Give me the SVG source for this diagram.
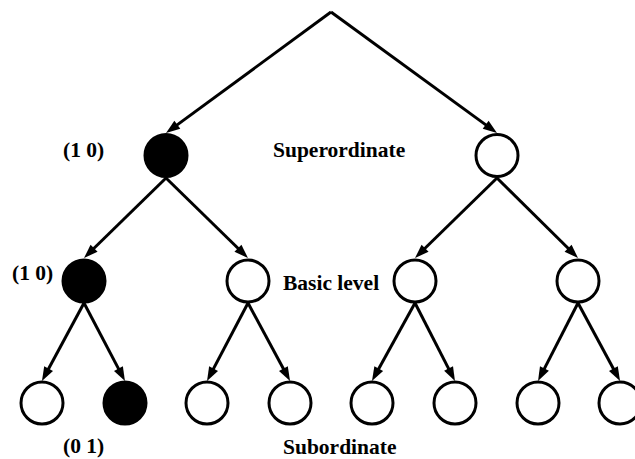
<svg xmlns="http://www.w3.org/2000/svg" width="635" height="459" viewBox="0 0 635 459">
<style>
.n{fill:#fff;stroke:#000;stroke-width:3}
.f{fill:#000;stroke:#000;stroke-width:3}
.e{stroke:#000;stroke-width:3;fill:none;marker-end:url(#ah)}
text{font-family:"Liberation Serif","Times New Roman",serif;font-weight:bold;font-size:21.5px;fill:#000}
</style>
<defs>
<marker id="ah" markerUnits="userSpaceOnUse" markerWidth="16" markerHeight="12" refX="4" refY="5" orient="auto" overflow="visible">
<path d="M0,0 L14,5 L0,10 z" fill="#000"/>
</marker>
</defs>
<g id="connectors">
<line class="e" x1="331" y1="12" x2="174.1" y2="127.1"/>
<line class="e" x1="331" y1="12" x2="488.9" y2="127.1"/>
<line class="e" x1="166" y1="178" x2="91.2" y2="251"/>
<line class="e" x1="166" y1="178" x2="240.8" y2="251"/>
<line class="e" x1="497" y1="178" x2="422.2" y2="251"/>
<line class="e" x1="497" y1="178" x2="570.9" y2="251"/>
<line class="e" x1="84" y1="303" x2="46.7" y2="372.2"/>
<line class="e" x1="84" y1="303" x2="120.3" y2="372.1"/>
<line class="e" x1="248" y1="303" x2="211.7" y2="372.1"/>
<line class="e" x1="248" y1="303" x2="285.3" y2="372.2"/>
<line class="e" x1="415" y1="303" x2="376.8" y2="372.2"/>
<line class="e" x1="415" y1="303" x2="450.4" y2="372.1"/>
<line class="e" x1="578" y1="303" x2="542.6" y2="372.1"/>
<line class="e" x1="578" y1="303" x2="615.3" y2="372.2"/>
</g>
<g id="sup-left"><circle class="f" cx="166" cy="155.5" r="21"/></g>
<g id="sup-right"><circle class="n" cx="497" cy="155.5" r="21"/></g>
<g id="basic-1"><circle class="f" cx="84" cy="281" r="21"/></g>
<g id="basic-2"><circle class="n" cx="248" cy="281" r="21"/></g>
<g id="basic-3"><circle class="n" cx="415" cy="281" r="21"/></g>
<g id="basic-4"><circle class="n" cx="578" cy="281" r="21"/></g>
<g id="sub-1"><circle class="n" cx="42" cy="403" r="21"/></g>
<g id="sub-2"><circle class="f" cx="125" cy="403" r="21"/></g>
<g id="sub-3"><circle class="n" cx="207" cy="403" r="21"/></g>
<g id="sub-4"><circle class="n" cx="290" cy="403" r="21"/></g>
<g id="sub-5"><circle class="n" cx="372" cy="403" r="21"/></g>
<g id="sub-6"><circle class="n" cx="455" cy="403" r="21"/></g>
<g id="sub-7"><circle class="n" cx="538" cy="403" r="21"/></g>
<g id="sub-8"><circle class="n" cx="620" cy="403" r="21"/></g>
<g id="labels">
<text x="63" y="157">(1 0)</text>
<text x="273" y="157">Superordinate</text>
<text x="12" y="280">(1 0)</text>
<text x="283" y="290">Basic level</text>
<text x="63" y="453">(0 1)</text>
<text x="283" y="454">Subordinate</text>
</g>
</svg>
